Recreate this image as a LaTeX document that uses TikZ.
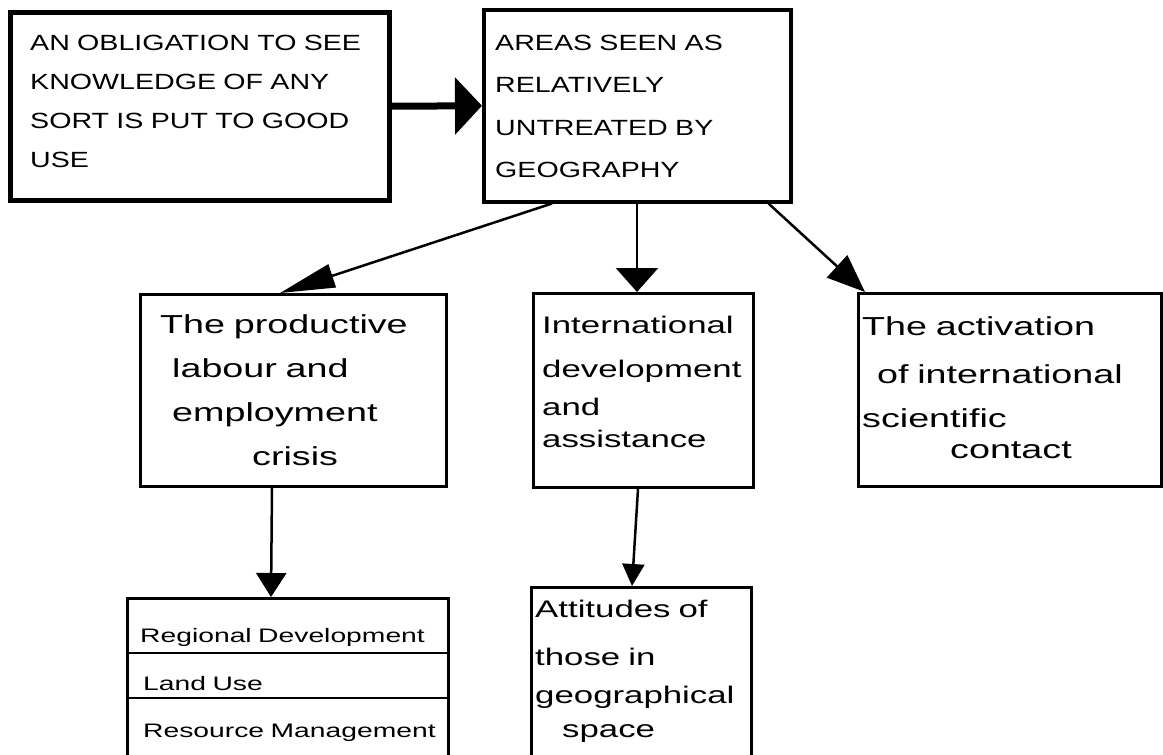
\documentclass[tikz,border=0pt]{standalone}
\usepackage{fontspec}
\usetikzlibrary{arrows.meta}
% wide hand-lettered look for the capitals and for the lower-case notes
\newfontfamily\handcaps{Liberation Sans}[FakeStretch=1.3]
\newfontfamily\handlow{Liberation Sans}[FakeStretch=1.45]

\begin{document}
\begin{tikzpicture}[x=1pt,y=-1pt,
  frame/.style={draw, line width=#1, rectangle, inner sep=0pt, anchor=north west},
  capstext/.style={inner sep=0pt, anchor=base west, align=left, text width=#1,
    font=\handcaps\fontsize{22}{39}\selectfont},
  lowtext/.style={inner sep=0pt, anchor=base west, align=left, text width=#1},
  link/.style={line width=2.5pt},
]
\useasboundingbox (0,0) rectangle (1163,755);
\clip (0,0) rectangle (1163,755);

% ---- boxes ----
\node[frame=4.5pt, minimum width=379pt, minimum height=188pt] (a) at (8,10) {};
\node[frame=3.5pt, minimum width=307pt, minimum height=192pt] (b) at (482,8) {};
\node[frame=3pt, minimum width=306pt, minimum height=192pt] (c) at (139,293) {};
\node[frame=3pt, minimum width=220pt, minimum height=194pt] (d) at (532,292) {};
\node[frame=2.5pt, minimum width=303pt, minimum height=193pt] (e) at (857,292) {};
\node[frame=3pt, minimum width=321pt, minimum height=190pt] (f) at (126,597) {};
\node[frame=3pt, minimum width=220pt, minimum height=190pt] (g) at (530,586) {};

% dividers of the list box
\draw[line width=2.5pt] ([yshift=-56pt]f.north west) -- ([yshift=-56pt]f.north east);
\draw[line width=2.5pt] ([yshift=-101pt]f.north west) -- ([yshift=-101pt]f.north east);

% ---- texts ----
\node[capstext=350pt] (at) at (30,50)
  {AN OBLIGATION TO SEE\\KNOWLEDGE OF ANY\\SORT IS PUT TO GOOD\\USE};
\node[capstext=290pt, font=\handcaps\fontsize{22}{42.5}\selectfont] (bt) at (495,50)
  {AREAS SEEN AS\\RELATIVELY\\UNTREATED BY\\GEOGRAPHY};

\node[lowtext=280pt, font=\handlow\fontsize{26}{44}\selectfont] (ct) at (160,333)
  {The productive\\\hspace*{12pt}labour and\\\hspace*{12pt}employment\\\hspace*{92pt}crisis};
\node[lowtext=210pt, font=\handlow\fontsize{24}{44}\selectfont] (dt) at (542,333)
  {International\\development\\[-6pt]and\\[-12pt]assistance};
\node[lowtext=295pt, font=\handlow\fontsize{26}{44}\selectfont] (et) at (862,335)
  {The activation\\[4pt]\hspace*{15pt}of international\\scientific\\[-13pt]\hspace*{88pt}contact};

\node[lowtext=300pt, font=\handlow\fontsize{19.5}{40}\selectfont] (f1) at (140,642) {Regional Development};
\node[lowtext=300pt, font=\handlow\fontsize{19.5}{40}\selectfont] (f2) at (143,690) {Land Use};
\node[lowtext=300pt, font=\handlow\fontsize{19.5}{40}\selectfont] (f3) at (143,737) {Resource Management};

\node[lowtext=210pt, font=\handlow\fontsize{24}{44}\selectfont] (gt) at (535,617)
  {Attitudes of\\[4pt]those in\\[-6pt]geographical\\[-10pt]\hspace*{27pt}space};

% ---- connectors ----
\draw[line width=7pt, -{Triangle[length=27pt, width=56pt]}] (a.east) -- (b.west);
\draw[link, -{Triangle[length=55pt, width=24pt]}]
  ([xshift=70pt]b.south west) -- ([xshift=141pt]c.north west);
\draw[link, -{Triangle[length=24pt, width=42pt]}]
  ([xshift=155pt]b.south west) -- ([xshift=105pt]d.north west);
\draw[link, -{Triangle[length=38pt, width=30pt]}]
  ([xshift=-24pt]b.south east) -- ([xshift=8pt]e.north west);
\draw[link, -{Triangle[length=24pt, width=30pt]}]
  ([xshift=133pt]c.south west) -- ([xshift=145pt]f.north west);
\draw[link, -{Triangle[length=22pt, width=22pt]}]
  ([xshift=106pt]d.south west) -- ([xshift=102pt]g.north west);
\end{tikzpicture}
\end{document}
